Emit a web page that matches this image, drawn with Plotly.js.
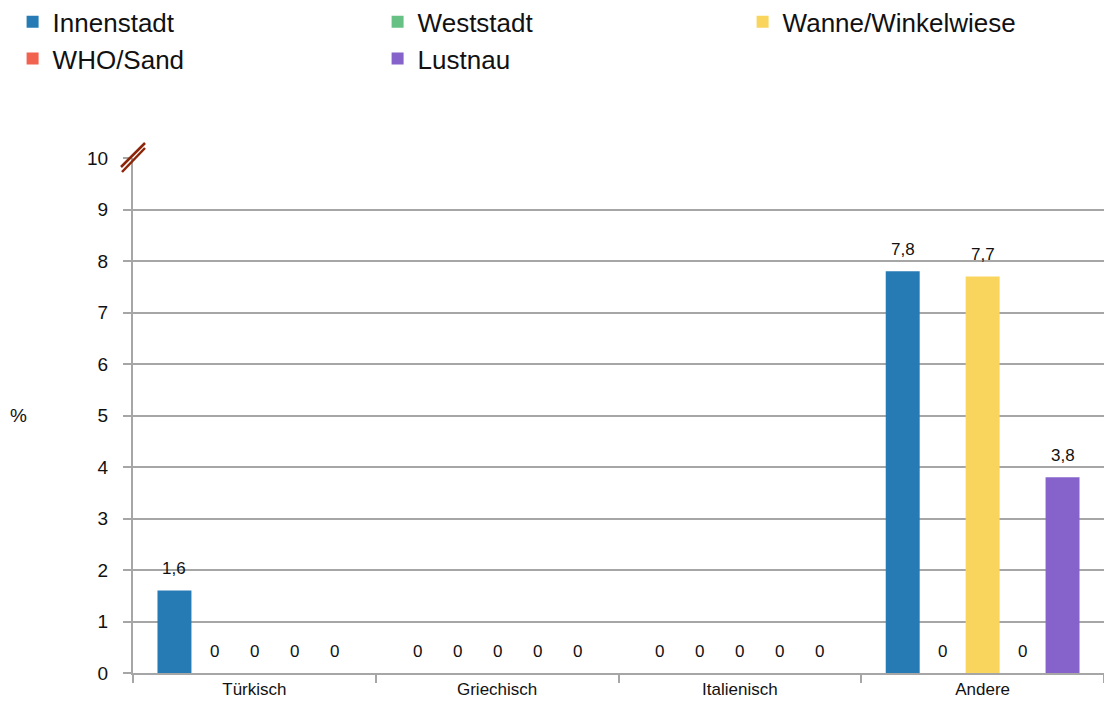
<!DOCTYPE html>
<html>
<head>
<meta charset="utf-8">
<script src="https://cdn.plot.ly/plotly-3.0.1.min.js"></script>
<style>html,body{margin:0;padding:0;background:#fff;}#chart{width:1104px;height:704px;}</style>
</head>
<body>
<div id="chart"></div>
<script>
const categories = ["Türkisch", "Griechisch", "Italienisch", "Andere"];
const seriesNames = ["Innenstadt", "Weststadt", "Wanne/Winkelwiese", "WHO/Sand", "Lustnau"];
const innenstadt = [1.6, 0, 0, 7.8];
const weststadt = [0, 0, 0, 0];
const wanneWinkelwiese = [0, 0, 0, 7.7];
const whoSand = [0, 0, 0, 0];
const lustnau = [0, 0, 0, 3.8];
const seriesColors = ["#267bb4", "#67c184", "#f9d55e", "#f1634f", "#8663cb"];
const yTickVals = [0,1,2,3,4,5,6,7,8,9,10];

const allValues = [innenstadt, weststadt, wanneWinkelwiese, whoSand, lustnau];
const BARGAP = 0.177;
const FONT = "Liberation Sans, Arial, sans-serif";

const traces = allValues.map((vals, i) => ({
  type: "bar",
  name: seriesNames[i],
  x: categories,
  y: vals,
  marker: {color: seriesColors[i]},
  hoverinfo: "skip"
}));

const fmt = v => String(v).replace(".", ",");
const annotations = [];
const slot = (1 - BARGAP) / allValues.length;
allValues.forEach((vals, si) => {
  vals.forEach((v, ci) => {
    annotations.push({
      xref: "x", yref: "y",
      x: ci + (si - (allValues.length - 1) / 2) * slot,
      y: v,
      text: fmt(v),
      showarrow: false,
      yanchor: "middle",
      yshift: 22,
      font: {family: FONT, size: 17, color: "#111"}
    });
  });
});
annotations.push({
  xref: "paper", yref: "paper", x: 0, y: 0.5,
  xanchor: "right", yanchor: "middle", xshift: -104,
  text: "%", showarrow: false,
  font: {family: FONT, size: 19, color: "#111"}
});

const breakColor = "#8b2508";
const shapes = [
  {x0: -12, y0: -9, x1: 12, y1: 15},
  {x0: -11, y0: -14, x1: 12, y1: 10}
].map(p => ({
  type: "line",
  xref: "paper", yref: "paper",
  xsizemode: "pixel", ysizemode: "pixel",
  xanchor: 0, yanchor: 1,
  x0: p.x0, y0: p.y0, x1: p.x1, y1: p.y1,
  line: {color: breakColor, width: 2.5}
}));

const layout = {
  width: 1104, height: 704,
  margin: {l: 133, r: 0, t: 158, b: 31, autoexpand: false},
  paper_bgcolor: "#fff", plot_bgcolor: "#fff",
  barmode: "group",
  bargap: BARGAP,
  bargroupgap: 0.15,
  font: {family: FONT, color: "#111"},
  showlegend: true,
  legend: {
    orientation: "h",
    xref: "paper", yref: "paper",
    x: -0.124, y: 1.31, xanchor: "left", yanchor: "top",
    entrywidth: 320,
    font: {family: FONT, size: 26, color: "#111"},
    itemclick: false
  },
  xaxis: {
    type: "category",
    tickson: "boundaries",
    ticks: "outside", ticklen: 8, tickcolor: "#a6a6a6", tickwidth: 2,
    showline: true, linecolor: "#a6a6a6", linewidth: 2,
    showgrid: false,
    tickfont: {family: FONT, size: 17, color: "#111"},
    fixedrange: true
  },
  yaxis: {
    range: [0, 10],
    tickvals: yTickVals,
    ticktext: yTickVals.map(String),
    ticks: "outside", ticklen: 8, tickcolor: "#a6a6a6", tickwidth: 2,
    showline: true, linecolor: "#a6a6a6", linewidth: 2,
    showgrid: true, gridcolor: "#a6a6a6", gridwidth: 2,
    zeroline: false,
    ticklabelstandoff: 11,
    tickfont: {family: FONT, size: 19, color: "#111"},
    fixedrange: true
  },
  annotations: annotations,
  shapes: shapes
};

Plotly.newPlot("chart", traces, layout, {displayModeBar: false, staticPlot: true});
</script>
</body>
</html>
